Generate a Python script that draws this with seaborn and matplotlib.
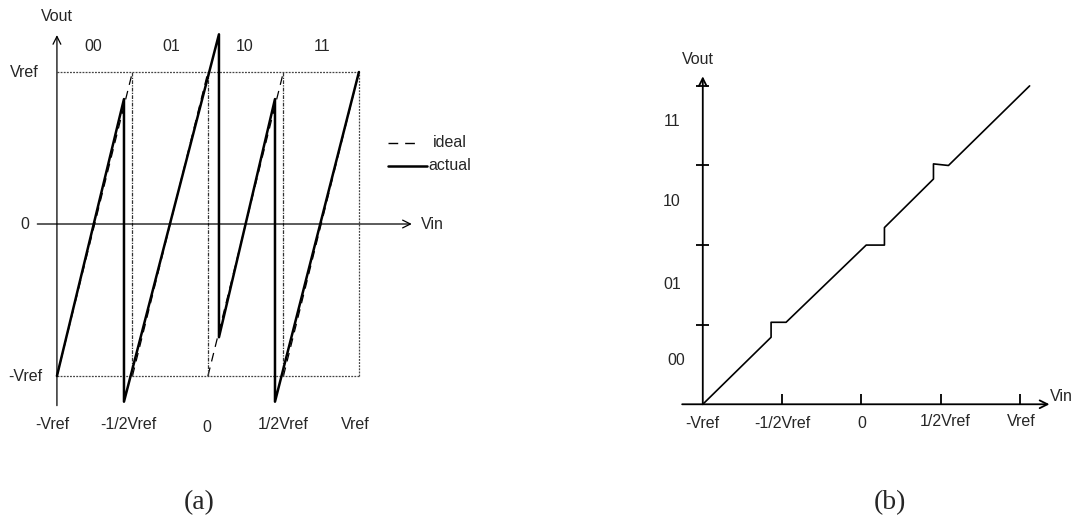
import numpy as np
import matplotlib
matplotlib.use('Agg')
import matplotlib.pyplot as plt
import pandas as pd
import seaborn as sns

sns.set_style('white')
plt.rcParams['font.family'] = ['Liberation Sans', 'DejaVu Sans']

# (a) residue curve, x and y in units of Vref
ideal_x = [-1, -0.5, -0.5, 0, 0, 0.5, 0.5, 1]
ideal_y = [-1, 1, -1, 1, -1, 1, -1, 1]
ideal_seg = [0, 0, 1, 1, 2, 2, 3, 3]
ideal_drop_x = [-0.5, 0, 0.5]

actual_x = [-1, -0.556, -0.556, 0.073, 0.073, 0.444, 0.444, 1]
actual_y = [-1, 0.822, -1.169, 1.248, -0.745, 0.822, -1.169, 1]

codes = ['00', '01', '10', '11']
code_x = [-0.76, -0.24, 0.245, 0.753]
a_ticks = ['-Vref', '-1/2Vref', '0', '1/2Vref', 'Vref']
a_tick_x = [-1.028, -0.528, -0.005, 0.499, 0.974]

# (b) transfer curve, x in half-Vref steps from -Vref, y in codes
b_x = [0, 0.861, 0.861, 1.05, 2.06, 2.29, 2.29, 2.908, 2.908, 3.097, 4.12]
b_y = [0, 0.842, 1.03, 1.03, 2.0, 2.0, 2.22, 2.83, 3.02, 3.0, 4.0]
b_ticks = [1, 2, 3, 4]
b_code_y = [0.55, 1.5, 2.55, 3.55]
b_tick_x = [0, 1, 2, 3.055, 4.01]

fig = plt.figure(figsize=(10.78, 5.22), dpi=100)
ax_a = fig.add_axes([0, 0, 540 / 1078, 1])
ax_b = fig.add_axes([540 / 1078, 0, 538 / 1078, 1])
ax_a.set_xlim(-1.377, 2.199)
ax_a.set_ylim(-1.9605, 1.4737)
ax_b.set_xlim(-2.052, 4.73)
ax_b.set_ylim(-1.479, 5.079)
for ax in (ax_a, ax_b):
    ax.axis('off')

arrow = dict(arrowstyle='->', color='black', lw=0.9, mutation_scale=14, shrinkA=0, shrinkB=0)
fs = 11.5

# ---- panel (a) ----
box = dict(color='#444444', lw=0.9, linestyle=(0, (1.5, 1)))
ax_a.plot([-1, 1], [1, 1], **box)
ax_a.plot([-1, 1], [-1, -1], **box)
ax_a.plot([1, 1], [-1, 1], **box)

ideal = pd.DataFrame({'x': ideal_x, 'y': ideal_y, 'seg': ideal_seg})
sns.lineplot(data=ideal, x='x', y='y', units='seg', estimator=None, sort=False,
             ax=ax_a, color='black', lw=0.9, dashes=False, linestyle=(0, (7, 5)))
ax_a.vlines(ideal_drop_x, -1, 1, color='#333333', lw=0.9, linestyle=(0, (3, 1, 1, 1)))

actual = pd.DataFrame({'x': actual_x, 'y': actual_y})
sns.lineplot(data=actual, x='x', y='y', estimator=None, sort=False, ax=ax_a,
             color='black', lw=1.8)

ax_a.annotate('', xy=(-1, 1.243), xytext=(-1, -1.195), arrowprops=arrow)
ax_a.annotate('', xy=(1.35, 0), xytext=(-1.13, 0), arrowprops=arrow)
ax_a.text(-1, 1.362, 'Vout', ha='center', va='center', fontsize=fs)
ax_a.text(1.483, 0, 'Vin', ha='center', va='center', fontsize=fs)
for c, cx in zip(codes, code_x):
    ax_a.text(cx, 1.165, c, ha='center', va='center', fontsize=fs)
ax_a.text(-1.217, 1, 'Vref', ha='center', va='center', fontsize=fs)
ax_a.text(-1.212, 0, '0', ha='center', va='center', fontsize=fs)
ax_a.text(-1.212, -1, '-Vref', ha='center', va='center', fontsize=fs)
for t, tx in zip(a_ticks, a_tick_x):
    ax_a.text(tx, -1.336 if t == '0' else -1.316, t, ha='center', va='center', fontsize=fs)

# legend
ax_a.plot([1.194, 1.371], [0.533, 0.533], color='black', lw=1.0, linestyle=(0, (7, 5)))
ax_a.plot([1.192, 1.448], [0.382, 0.382], color='black', lw=1.8)
ax_a.text(1.492, 0.533, 'ideal', ha='left', va='center', fontsize=fs)
ax_a.text(1.459, 0.382, 'actual', ha='left', va='center', fontsize=fs)

ax_a.text(-0.06, -1.836, '(a)', ha='center', va='center', fontsize=20,
          family=['Liberation Serif', 'DejaVu Serif'])

# ---- panel (b) ----
arrow_b = dict(arrow, lw=1.3)
ax_b.annotate('', xy=(0, 4.12), xytext=(0, 0), arrowprops=arrow_b)
ax_b.annotate('', xy=(4.37, 0), xytext=(-0.26, 0), arrowprops=arrow_b)
ax_b.hlines(b_ticks, -0.088, 0.08, color='black', lw=1.3)
ax_b.vlines(b_ticks, 0, 0.13, color='black', lw=1.3)

trans = pd.DataFrame({'x': b_x, 'y': b_y})
sns.lineplot(data=trans, x='x', y='y', estimator=None, sort=False, ax=ax_b,
             color='black', lw=1.2)

ax_b.text(-0.06, 4.33, 'Vout', ha='center', va='center', fontsize=fs)
ax_b.text(4.38, 0.095, 'Vin', ha='left', va='center', fontsize=fs)
for c, cy in zip(codes, b_code_y):
    ax_b.text(-0.33 if c == '00' else -0.39, cy, c, ha='center', va='center', fontsize=fs)
for t, tx in zip(a_ticks, b_tick_x):
    ty = -0.219 if tx > 2.5 else -0.247
    ax_b.text(tx, ty, t, ha='center', va='center', fontsize=fs)

ax_b.text(2.362, -1.24, '(b)', ha='center', va='center', fontsize=20,
          family=['Liberation Serif', 'DejaVu Serif'])

fig.savefig('out.png', dpi=100)
